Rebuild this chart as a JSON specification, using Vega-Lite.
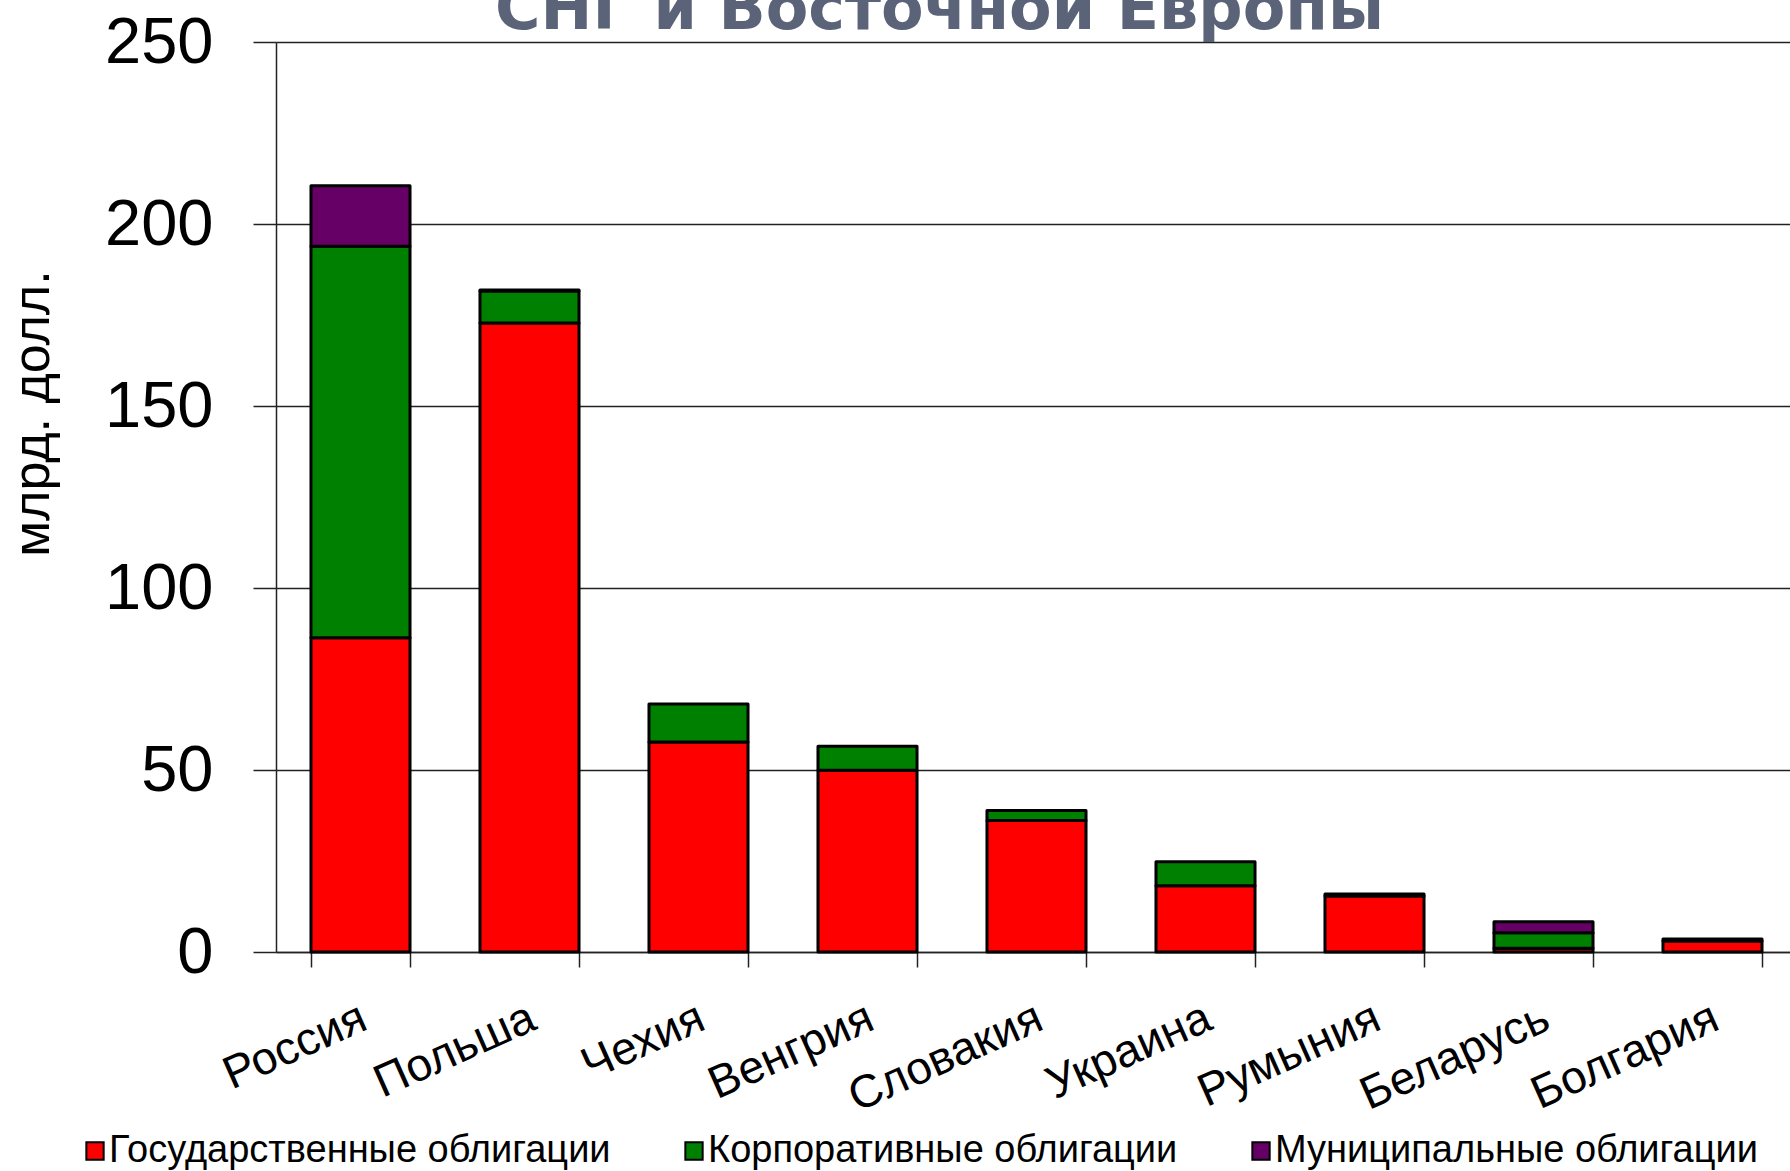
{
  "$schema": "https://vega.github.io/schema/vega-lite/v6.json",
  "width": 1521,
  "height": 910,
  "autosize": {"type": "none"},
  "padding": {"left": 276, "top": 42, "right": 0, "bottom": 219},
  "background": "white",
  "title": {
    "text": "СНГ и Восточной Европы",
    "font": "DejaVu Sans",
    "fontWeight": "bold",
    "fontSize": 62,
    "color": "#5a6378",
    "anchor": "start",
    "frame": "group",
    "dx": 219,
    "baseline": "alphabetic",
    "offset": -81
  },
  "data": {
    "values": [
      {"country": "Россия", "type": "Государственные облигации", "k": 1, "value": 86.3},
      {"country": "Россия", "type": "Корпоративные облигации", "k": 2, "value": 107.6},
      {"country": "Россия", "type": "Муниципальные облигации", "k": 3, "value": 16.6},
      {"country": "Польша", "type": "Государственные облигации", "k": 1, "value": 172.8},
      {"country": "Польша", "type": "Корпоративные облигации", "k": 2, "value": 8.8},
      {"country": "Польша", "type": "Муниципальные облигации", "k": 3, "value": 0.3},
      {"country": "Чехия", "type": "Государственные облигации", "k": 1, "value": 57.7},
      {"country": "Чехия", "type": "Корпоративные облигации", "k": 2, "value": 10.4},
      {"country": "Венгрия", "type": "Государственные облигации", "k": 1, "value": 49.9},
      {"country": "Венгрия", "type": "Корпоративные облигации", "k": 2, "value": 6.6},
      {"country": "Словакия", "type": "Государственные облигации", "k": 1, "value": 36.1},
      {"country": "Словакия", "type": "Корпоративные облигации", "k": 2, "value": 2.8},
      {"country": "Украина", "type": "Государственные облигации", "k": 1, "value": 18.2},
      {"country": "Украина", "type": "Корпоративные облигации", "k": 2, "value": 6.6},
      {"country": "Румыния", "type": "Государственные облигации", "k": 1, "value": 15.4},
      {"country": "Румыния", "type": "Корпоративные облигации", "k": 2, "value": 0.5},
      {"country": "Беларусь", "type": "Государственные облигации", "k": 1, "value": 1.0},
      {"country": "Беларусь", "type": "Корпоративные облигации", "k": 2, "value": 4.3},
      {"country": "Беларусь", "type": "Муниципальные облигации", "k": 3, "value": 3.0},
      {"country": "Болгария", "type": "Государственные облигации", "k": 1, "value": 3.0},
      {"country": "Болгария", "type": "Корпоративные облигации", "k": 2, "value": 0.6}
    ]
  },
  "mark": {"type": "bar", "stroke": "black", "strokeWidth": 3, "strokeJoin": "round"},
  "encoding": {
    "x": {
      "field": "country",
      "type": "nominal",
      "sort": ["Россия", "Польша", "Чехия", "Венгрия", "Словакия", "Украина", "Румыния", "Беларусь", "Болгария"],
      "scale": {"paddingInner": 0.414, "paddingOuter": 0.207},
      "axis": {
        "title": null,
        "labelAngle": -24,
        "labelAlign": "right",
        "labelBaseline": "top",
        "labelFont": "Liberation Sans",
        "labelFontSize": 46,
        "labelColor": "black",
        "labelPadding": 28,
        "labelOffset": -6,
        "labelLimit": 0,
        "labelOverlap": false,
        "tickBand": "extent",
        "tickSize": 15,
        "tickColor": "#222222",
        "tickWidth": 1.5,
        "domainColor": "#222222",
        "domainWidth": 1.5,
        "grid": false
      }
    },
    "y": {
      "field": "value",
      "type": "quantitative",
      "stack": "zero",
      "scale": {"domain": [0, 250], "nice": false},
      "axis": {
        "values": [0, 50, 100, 150, 200, 250],
        "title": "млрд. долл.",
        "titleFont": "Liberation Sans",
        "titleFontSize": 52,
        "titleFontWeight": "normal",
        "titleColor": "black",
        "titleX": -244,
        "titleY": 371,
        "titleAngle": -90,
        "titleAlign": "center",
        "titleBaseline": "middle",
        "labelFont": "Liberation Sans",
        "labelFontSize": 65,
        "labelColor": "black",
        "labelPadding": 40,
        "tickSize": 23,
        "tickColor": "#222222",
        "tickWidth": 1.5,
        "grid": true,
        "gridColor": "#222222",
        "gridWidth": 1.5,
        "gridOpacity": 1,
        "domainColor": "#222222",
        "domainWidth": 1.5
      }
    },
    "color": {
      "field": "type",
      "type": "nominal",
      "scale": {
        "domain": ["Государственные облигации", "Корпоративные облигации", "Муниципальные облигации"],
        "range": ["#ff0000", "#008000", "#660066"]
      },
      "legend": {
        "orient": "none",
        "legendX": -200,
        "legendY": 1090,
        "direction": "horizontal",
        "title": null,
        "padding": 0,
        "symbolType": "square",
        "symbolSize": 300,
        "symbolStrokeColor": "black",
        "symbolStrokeWidth": 2,
        "symbolOpacity": 1,
        "labelFont": "Liberation Sans",
        "labelFontSize": 38,
        "labelColor": "black",
        "labelOffset": -5,
        "labelLimit": 0,
        "columnPadding": 64
      }
    },
    "order": {"field": "k", "type": "quantitative"}
  }
}
